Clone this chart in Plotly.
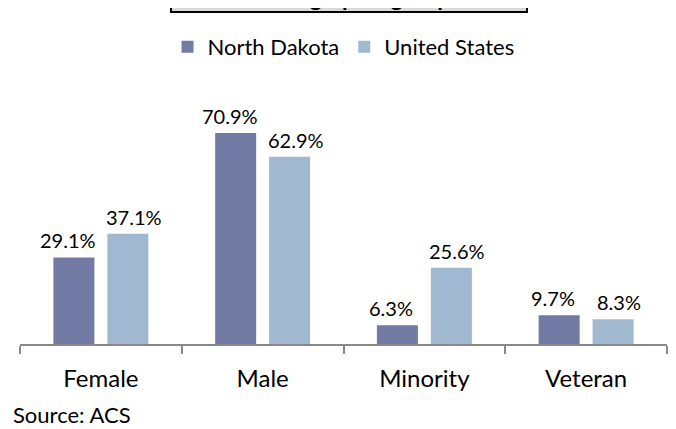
import plotly.graph_objects as go

categories = ["Female", "Male", "Minority", "Veteran"]
north_dakota = [29.1, 70.9, 6.3, 9.7]
united_states = [37.1, 62.9, 25.6, 8.3]
series_names = ["North Dakota", "United States"]
title_text = "Demographic group"
source_text = "Source: ACS"

ND_COLOR = "#717BA3"
US_COLOR = "#A0B8D0"
FONT = "Lato"

fig = go.Figure()
fig.add_trace(go.Bar(x=categories, y=north_dakota, name=series_names[0],
                     marker=dict(color=ND_COLOR, line=dict(width=0))))
fig.add_trace(go.Bar(x=categories, y=united_states, name=series_names[1],
                     marker=dict(color=US_COLOR, line=dict(width=0))))

annotations = []
for cat, v in zip(categories, north_dakota):
    annotations.append(dict(x=cat, y=v, xref="x", yref="y", text=f"{v:.1f}%",
                            showarrow=False, yanchor="bottom", xshift=-33, yshift=3,
                            font=dict(family=FONT, size=20, color="#000")))
for cat, v in zip(categories, united_states):
    annotations.append(dict(x=cat, y=v, xref="x", yref="y", text=f"{v:.1f}%",
                            showarrow=False, yanchor="bottom", xshift=33, yshift=3,
                            font=dict(family=FONT, size=20, color="#000")))

annotations.append(dict(x=0.5089, y=1.392, xref="paper", yref="paper",
                        text=f"<b>{title_text}</b>", showarrow=False,
                        xanchor="center", yanchor="bottom",
                        font=dict(family=FONT, size=23, color="#000"),
                        bgcolor="#D9D9D9", bordercolor="#000", borderwidth=2,
                        borderpad=0, width=354, height=44, valign="bottom"))
annotations.append(dict(x=-0.014, y=-0.298, xref="paper", yref="paper",
                        text=source_text, showarrow=False,
                        xanchor="left", yanchor="middle",
                        font=dict(family=FONT, size=22, color="#000")))

fig.update_layout(
    width=668, height=421,
    margin=dict(l=11.5, r=9, t=98, b=85),
    paper_bgcolor="white", plot_bgcolor="white",
    barmode="group", bargap=0.333, bargroupgap=0.24,
    font=dict(family=FONT, color="#000"),
    legend=dict(orientation="h", x=0.5, xanchor="center", y=1.248, yanchor="middle",
                font=dict(family=FONT, size=22, color="#000"), traceorder="normal"),
    annotations=annotations,
    showlegend=True,
)
fig.update_xaxes(showline=True, linecolor="#898989", linewidth=1.5,
                 ticks="outside", ticklen=8, tickcolor="#898989", tickwidth=1.5,
                 tickson="boundaries", range=[-0.5, 3.5],
                 tickfont=dict(family=FONT, size=24, color="#000"),
                 ticklabelstandoff=12, showgrid=False, zeroline=False)
fig.update_yaxes(visible=False, range=[0, 80], showgrid=False, zeroline=False)

fig.write_html("out.html")
